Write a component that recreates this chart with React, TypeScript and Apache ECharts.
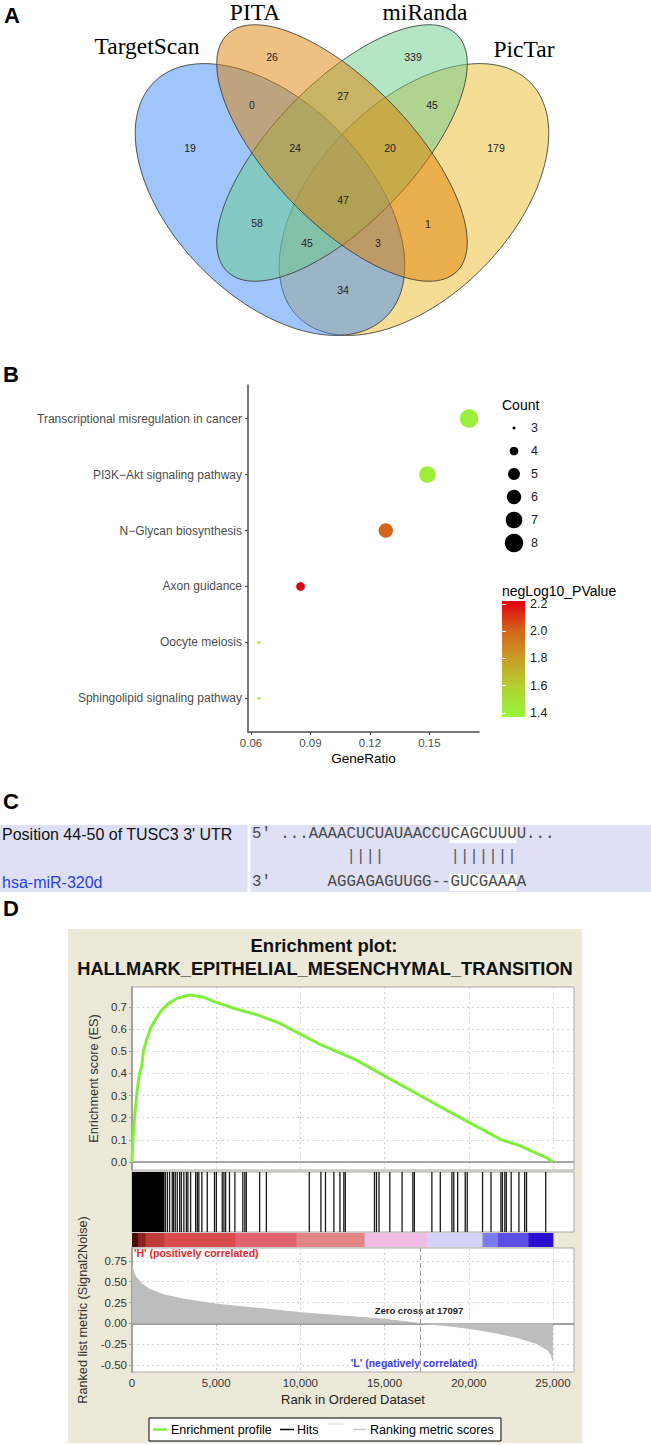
import React, { useEffect, useRef } from 'react';
import * as echarts from 'echarts';

// ================= DATA =================
// Panel A – Venn diagram of predicted targets
const vennSetNames = ['TargetScan', 'PITA', 'miRanda', 'PicTar'];
const vennRegions = [
  'TargetScan', 'PITA', 'miRanda', 'PicTar', 'TargetScan&PITA', 'PITA&miRanda', 'miRanda&PicTar',
  'TargetScan&PITA&miRanda', 'PITA&miRanda&PicTar', 'all', 'TargetScan&miRanda', 'TargetScan&miRanda&PicTar',
  'TargetScan&PITA&PicTar', 'PITA&PicTar', 'TargetScan&PicTar',
];
const vennCounts = [19, 26, 339, 179, 0, 27, 45, 24, 20, 47, 58, 45, 3, 1, 34];

// Panel B – KEGG dot plot
const pathways = [
  'Transcriptional misregulation in cancer',
  'PI3K\u2212Akt signaling pathway',
  'N\u2212Glycan biosynthesis',
  'Axon guidance',
  'Oocyte meiosis',
  'Sphingolipid signaling pathway',
];
const geneRatio = [0.170, 0.149, 0.128, 0.085, 0.064, 0.064];
const geneCount = [8, 7, 6, 4, 3, 3];
const negLog10PValue = [1.40, 1.42, 2.00, 2.22, 1.37, 1.37];
const geneRatioTicks = [0.06, 0.09, 0.12, 0.15];
const countLegendValues = [3, 4, 5, 6, 7, 8];
const pValueTicks = [1.4, 1.6, 1.8, 2.0, 2.2];

// Panel C – binding site
const utrLabel = "Position 44-50 of TUSC3 3' UTR";
const mirnaLabel = 'hsa-miR-320d';
const utrEndLabel = "5'";
const utrSequence = '...AAAACUCUAUAACCUCAGCUUUU...';
const mirEndLabel = "3'";
const mirSequence = 'AGGAGAGUUGG--GUCGAAAA';
const pairingBlocks = ['||||', '|||||||'];

// Panel D – GSEA enrichment plot
const gseaTitle = ['Enrichment plot:', 'HALLMARK_EPITHELIAL_MESENCHYMAL_TRANSITION'];
const rankTicks = [0, 5000, 10000, 15000, 20000, 25000];
const esTicks = [0, 0.1, 0.2, 0.3, 0.4, 0.5, 0.6, 0.7];
const metricTicks = [-0.5, -0.25, 0, 0.25, 0.5, 0.75];
const esRank = [0, 30, 80, 150, 300, 450, 570, 680, 900, 1140, 1450, 1710, 2160, 2700, 3410, 4200, 4890, 6030, 7400, 8760, 11030, 13310, 15580, 16490, 19000, 20820, 21950, 23000, 24000, 24600, 25000];
const esValue = [0, 0.06, 0.13, 0.2, 0.32, 0.40, 0.43, 0.50, 0.56, 0.61, 0.65, 0.68, 0.715, 0.74, 0.754, 0.745, 0.724, 0.694, 0.665, 0.627, 0.536, 0.461, 0.364, 0.326, 0.221, 0.146, 0.10, 0.075, 0.04, 0.02, 0.0];
const denseHitStart = [0];
const denseHitEnd = [1930];
const hitRanks = [
  1980, 2100, 2230, 2390, 2470, 2570, 2690, 2830, 2930, 3080, 3230, 3320, 3480, 3780, 3880, 3970, 4150, 4470,
  4900, 5010, 5360, 5460, 5560, 5790, 6110, 6580, 6700, 6790, 7580, 7980,
  10530, 11220, 11490, 11990, 12350, 12580, 12670, 14400, 14520, 14670, 15310, 16040, 16680, 16770, 17810,
  18310, 19000, 19110, 19340, 19790, 19910, 20820, 21320, 21910, 22000, 22140, 22230, 22520, 22980, 23320,
  23430, 24570,
];
const metricRank = [0, 80, 228, 570, 1020, 1930, 3070, 5000, 7500, 10000, 12500, 15000, 17097, 18770, 20000, 21500, 22860, 24000, 24690, 24900, 25000];
const metricValue = [0.70, 0.62, 0.56, 0.48, 0.41, 0.34, 0.29, 0.23, 0.18, 0.128, 0.088, 0.048, 0.0, -0.03, -0.06, -0.11, -0.17, -0.24, -0.32, -0.38, -0.45];
const zeroCrossRank = 17097;
const stripStart = [0, 350, 800, 1930, 6140, 9780, 13810, 17520, 20820, 21730, 23550];
const stripEnd = [350, 800, 1930, 6140, 9780, 13810, 17520, 20820, 21730, 23550, 25000];

// ================= STYLE / LAYOUT =================
const SANS = "'Liberation Sans', Arial, Helvetica, sans-serif";
const SERIF = "'Liberation Serif', 'Times New Roman', serif";
const MONO = "'Liberation Mono', 'Courier New', monospace";

const vennShapes = [
  { cx: 414, cy: 199.5, rx: 165, ry: 97, deg: 45.5, fill: 'rgba(237,187,43,0.5)' },
  { cx: 270, cy: 199.5, rx: 165, ry: 97, deg: -45.5, fill: 'rgba(63,140,247,0.5)' },
  { cx: 342, cy: 153, rx: 165, ry: 70, deg: 46, fill: 'rgba(105,203,139,0.5)' },
  { cx: 342, cy: 153, rx: 165, ry: 70, deg: -46, fill: 'rgba(221,129,3,0.5)' },
];
const vennTitlePos = [[147, 46], [255, 12], [425, 12], [524, 49]];
const vennLabelPos = [
  [190, 148], [272, 57], [413, 57], [496, 148], [252, 105], [343, 96], [432, 105], [295, 148],
  [390, 148], [343, 200], [257, 223], [307, 243], [378, 243], [428, 224], [343, 290],
];
const pValueColors = ['#96f53c', '#b3d230', '#c89e27', '#d4641c', '#e3000e'];
const stripColors = ['#4a0c0c', '#8a2020', '#c03a3a', '#d94b4e', '#e1636f', '#e38585', '#f0bde4', '#d4d3f9', '#7d7cf3', '#5e50e6', '#2a0fcc'];
const ES_GREEN = '#7ef03b';

const countToSize = (c: number) => (18.5 * Math.sqrt(1 + (c - 3) * 7)) / 6;

function txt(text: string, x: number, y: number, o: any = {}) {
  return {
    type: 'text',
    x,
    y,
    rotation: o.rotation || 0,
    z: o.z ?? 5,
    silent: true,
    style: {
      text,
      fill: o.fill ?? '#000',
      fontSize: o.size ?? 12,
      fontFamily: o.family ?? SANS,
      fontWeight: o.weight ?? 'normal',
      align: o.align ?? 'left',
      verticalAlign: o.va ?? 'middle',
      textAlign: o.align ?? 'left',
      textVerticalAlign: o.va ?? 'middle',
    },
  };
}

function buildGraphics() {
  const g: any[] = [];
  // Panel letters
  g.push(txt('A', 12, 15, { size: 22, weight: 'bold', align: 'center' }));
  g.push(txt('B', 11, 374, { size: 22, weight: 'bold', align: 'center' }));
  g.push(txt('C', 11, 801, { size: 22, weight: 'bold', align: 'center' }));
  g.push(txt('D', 11, 908, { size: 22, weight: 'bold', align: 'center' }));

  // Venn
  vennShapes.forEach((s) => {
    g.push({
      type: 'ellipse',
      x: s.cx,
      y: s.cy,
      rotation: (s.deg * Math.PI) / 180,
      shape: { cx: 0, cy: 0, rx: s.rx, ry: s.ry },
      style: { fill: s.fill, stroke: '#3a3a3a', lineWidth: 0.8 },
      silent: true,
    });
  });
  vennSetNames.forEach((n, i) => {
    g.push(txt(n, vennTitlePos[i][0], vennTitlePos[i][1], { size: 23.5, family: SERIF, align: 'center' }));
  });
  vennCounts.forEach((c, i) => {
    g.push(txt(String(c), vennLabelPos[i][0], vennLabelPos[i][1], { size: 10.5, fill: '#222', align: 'center' }));
  });

  // Panel B legends titles + colour bar
  g.push(txt('Count', 502, 405, { size: 14 }));
  g.push(txt('negLog10_PValue', 502, 591, { size: 14 }));
  g.push({
    type: 'rect',
    shape: { x: 502, y: 601, width: 23, height: 116 },
    z: 1,
    silent: true,
    style: {
      fill: {
        type: 'linear', x: 0, y: 1, x2: 0, y2: 0,
        colorStops: pValueColors.map((c, i) => ({ offset: i / (pValueColors.length - 1), color: c })),
      },
    },
  });

  // Panel C
  const cw = 9.45;
  const x0 = 252;
  g.push({ type: 'rect', z: -10, silent: true, shape: { x: 0, y: 825, width: 247.5, height: 67 }, style: { fill: '#dfe0f5' } });
  g.push({ type: 'rect', z: -10, silent: true, shape: { x: 250.5, y: 825, width: 400.5, height: 67 }, style: { fill: '#dfe0f5' } });
  g.push({ type: 'rect', z: -5, silent: true, shape: { x: x0 + 21 * cw - 1, y: 826, width: 7 * cw + 1, height: 17 }, style: { fill: '#ffffff' } });
  g.push({ type: 'rect', z: -5, silent: true, shape: { x: x0 + 21 * cw - 1, y: 874, width: 7 * cw + 1, height: 17 }, style: { fill: '#ffffff' } });
  g.push(txt(utrLabel, 2, 834, { size: 16, fill: '#111' }));
  g.push(txt(mirnaLabel, 2, 882, { size: 16, fill: '#2440e6' }));
  g.push(txt(utrEndLabel, x0, 834, { size: 15.75, family: MONO, fill: '#4a4a4a' }));
  g.push(txt(utrSequence, x0 + 3 * cw, 834, { size: 15.75, family: MONO, fill: '#4a4a4a' }));
  g.push(txt(pairingBlocks[0], x0 + 10 * cw, 857, { size: 15.75, family: MONO, fill: '#555' }));
  g.push(txt(pairingBlocks[1], x0 + 21 * cw, 857, { size: 15.75, family: MONO, fill: '#555' }));
  g.push(txt(mirEndLabel, x0, 882, { size: 15.75, family: MONO, fill: '#4a4a4a' }));
  g.push(txt(mirSequence, x0 + 8 * cw, 882, { size: 15.75, family: MONO, fill: '#4a4a4a' }));

  // Panel D background + titles
  g.push({ type: 'rect', z: -10, silent: true, shape: { x: 68, y: 929, width: 514, height: 514 }, style: { fill: '#ece9d8' } });
  g.push(txt(gseaTitle[0], 324, 945, { size: 18.5, weight: 'bold', align: 'center', fill: '#111' }));
  g.push(txt(gseaTitle[1], 325, 968, { size: 18.3, weight: 'bold', align: 'center', fill: '#111' }));
  g.push(txt("'H' (positively correlated)", 134, 1253, { size: 10.5, weight: 'bold', fill: '#e8262a' }));
  g.push(txt('Zero cross at ' + zeroCrossRank, 419, 1310, { size: 9.5, weight: 'bold', fill: '#222', align: 'center' }));
  g.push(txt("'L' (negatively correlated)", 414, 1363, { size: 10.5, weight: 'bold', fill: '#3b3bf5', align: 'center' }));

  // GSEA legend
  g.push({ type: 'rect', z: 5, silent: true, shape: { x: 149, y: 1418, width: 352, height: 23 }, style: { fill: '#fff', stroke: '#000', lineWidth: 1 } });
  g.push({ type: 'line', z: 6, silent: true, shape: { x1: 153, y1: 1429.5, x2: 167, y2: 1429.5 }, style: { stroke: ES_GREEN, lineWidth: 2.5 } });
  g.push(txt('Enrichment profile', 171, 1429.5, { size: 12.5, z: 6 }));
  g.push({ type: 'line', z: 6, silent: true, shape: { x1: 280, y1: 1429.5, x2: 294, y2: 1429.5 }, style: { stroke: '#000', lineWidth: 1.5 } });
  g.push(txt('Hits', 297, 1429.5, { size: 12.5, z: 6 }));
  g.push({ type: 'line', z: 6, silent: true, shape: { x1: 328, y1: 1424, x2: 343, y2: 1424 }, style: { stroke: '#d8d8d8', lineWidth: 1 } });
  g.push({ type: 'line', z: 6, silent: true, shape: { x1: 353, y1: 1429.5, x2: 366, y2: 1429.5 }, style: { stroke: '#c8c8c8', lineWidth: 1.5 } });
  g.push(txt('Ranking metric scores', 370, 1429.5, { size: 12.5, z: 6 }));
  return g;
}

function buildOption(): any {
  const dashed = { show: true, lineStyle: { color: '#d4d4d4', type: [2, 3], width: 1 } };
  const rankAxisBase = { type: 'value', min: 0, max: 26250 };
  return {
    animation: false,
    textStyle: { fontFamily: SANS },
    grid: [
      { left: 248, top: 385, width: 231, height: 347, show: false },
      { left: 502, top: 416.5, width: 24, height: 138, show: false },
      { left: 502, top: 601, width: 23, height: 116, show: false },
      { left: 132, top: 987, width: 442, height: 183, show: true, backgroundColor: '#fff', borderColor: '#a8a8a8', borderWidth: 1 },
      { left: 132, top: 1172, width: 442, height: 60, show: true, backgroundColor: '#fff', borderColor: '#a8a8a8', borderWidth: 1 },
      { left: 132, top: 1233, width: 442, height: 14, show: false },
      { left: 132, top: 1248, width: 442, height: 124, show: true, backgroundColor: '#fff', borderColor: '#a8a8a8', borderWidth: 1 },
    ],
    xAxis: [
      {
        gridIndex: 0, type: 'value', min: 0.0585, max: 0.175,
        axisLine: { show: true, lineStyle: { color: '#4d4d4d', width: 1.5 } },
        axisTick: { show: true, length: 3, customValues: geneRatioTicks, lineStyle: { color: '#4d4d4d', width: 1.2 } },
        axisLabel: { customValues: geneRatioTicks, formatter: (v: number) => v.toFixed(2), color: '#4d4d4d', fontSize: 11.5, margin: 5 },
        splitLine: { show: false },
        name: 'GeneRatio', nameLocation: 'middle', nameGap: 19, nameTextStyle: { fontSize: 13.5, color: '#000' },
      },
      { gridIndex: 1, type: 'value', min: -1, max: 1, show: false },
      { gridIndex: 2, type: 'value', min: 0, max: 1, show: false },
      {
        gridIndex: 3, ...rankAxisBase,
        axisLine: { show: false }, axisTick: { show: false, customValues: rankTicks },
        axisLabel: { show: false, customValues: rankTicks }, splitLine: dashed,
      },
      { gridIndex: 4, ...rankAxisBase, show: false },
      { gridIndex: 5, ...rankAxisBase, show: false },
      {
        gridIndex: 6, ...rankAxisBase,
        axisLine: { show: true, lineStyle: { color: '#a0a0a0', width: 2 } },
        axisTick: { show: true, length: 3, customValues: rankTicks, lineStyle: { color: '#a0a0a0' } },
        axisLabel: { customValues: rankTicks, formatter: (v: number) => v.toLocaleString('en-US'), color: '#333', fontSize: 11.5, margin: 5 },
        splitLine: dashed,
        name: 'Rank in Ordered Dataset', nameLocation: 'middle', nameGap: 21, nameTextStyle: { fontSize: 13, color: '#222' },
      },
    ],
    yAxis: [
      {
        gridIndex: 0, type: 'value', min: 0.4, max: 6.6, inverse: true,
        axisLine: { show: true, lineStyle: { color: '#4d4d4d', width: 1.5 } },
        axisTick: { show: true, length: 3, customValues: [1, 2, 3, 4, 5, 6], lineStyle: { color: '#4d4d4d', width: 1.2 } },
        axisLabel: { customValues: [1, 2, 3, 4, 5, 6], formatter: (v: number) => pathways[Math.round(v) - 1], color: '#4d4d4d', fontSize: 12, margin: 6 },
        splitLine: { show: false },
      },
      {
        gridIndex: 1, type: 'category', data: countLegendValues.map(String), inverse: true, position: 'right',
        axisLine: { show: false }, axisTick: { show: false },
        axisLabel: { color: '#1a1a1a', fontSize: 12.5, margin: 5 },
      },
      {
        gridIndex: 2, type: 'value', min: 1.37, max: 2.222, position: 'right', z: 10,
        axisLine: { show: false }, splitLine: { show: false },
        axisTick: { show: true, inside: true, length: 4, customValues: pValueTicks, lineStyle: { color: '#fff', width: 1 } },
        axisLabel: { customValues: pValueTicks, formatter: (v: number) => v.toFixed(1), color: '#1a1a1a', fontSize: 12.5, margin: 5 },
      },
      {
        gridIndex: 2, type: 'value', min: 1.37, max: 2.222, position: 'left', z: 10,
        axisLine: { show: false }, splitLine: { show: false }, axisLabel: { show: false },
        axisTick: { show: true, inside: true, length: 4, customValues: pValueTicks, lineStyle: { color: '#fff', width: 1 } },
      },
      {
        gridIndex: 3, type: 'value', min: -0.036, max: 0.79,
        axisLine: { show: true, lineStyle: { color: '#a0a0a0', width: 2 } },
        axisTick: { show: true, length: 3, customValues: esTicks, lineStyle: { color: '#a0a0a0' } },
        axisLabel: { customValues: esTicks, formatter: (v: number) => v.toFixed(1), color: '#333', fontSize: 11.5, margin: 5 },
        splitLine: dashed,
        name: 'Enrichment score (ES)', nameLocation: 'middle', nameGap: 30, nameRotate: 90,
        nameTextStyle: { fontSize: 12.8, color: '#333' },
      },
      { gridIndex: 4, type: 'value', min: 0, max: 1, show: false },
      { gridIndex: 5, type: 'value', min: 0, max: 1, show: false },
      {
        gridIndex: 6, type: 'value', min: -0.585, max: 0.905,
        axisLine: { show: true, lineStyle: { color: '#a0a0a0', width: 2 } },
        axisTick: { show: true, length: 3, customValues: metricTicks, lineStyle: { color: '#a0a0a0' } },
        axisLabel: { customValues: metricTicks, formatter: (v: number) => v.toFixed(2), color: '#333', fontSize: 11.5, margin: 5 },
        splitLine: dashed,
        name: 'Ranked list metric (Signal2Noise)', nameLocation: 'middle', nameGap: 37, nameRotate: 90,
        nameTextStyle: { fontSize: 12.7, color: '#333' },
      },
    ],
    visualMap: {
      type: 'continuous', show: false, seriesIndex: 0, dimension: 2, min: 1.37, max: 2.222,
      inRange: { color: pValueColors },
    },
    series: [
      {
        type: 'scatter', xAxisIndex: 0, yAxisIndex: 0, silent: true,
        data: pathways.map((_, i) => [geneRatio[i], i + 1, negLog10PValue[i], geneCount[i]]),
        symbolSize: (v: number[]) => countToSize(v[3]),
        itemStyle: { opacity: 1 },
      },
      {
        type: 'scatter', xAxisIndex: 1, yAxisIndex: 1, silent: true,
        data: countLegendValues.map((c, i) => [0, i, c]),
        symbolSize: (v: number[]) => countToSize(v[2]),
        itemStyle: { color: '#000', opacity: 1 },
      },
      {
        type: 'line', xAxisIndex: 3, yAxisIndex: 4, silent: true, showSymbol: false, z: 5,
        data: esRank.map((r, i) => [r, esValue[i]]),
        lineStyle: { color: ES_GREEN, width: 3 },
        markLine: {
          silent: true, symbol: 'none', label: { show: false },
          lineStyle: { color: '#8c8c8c', width: 1.5, type: 'solid' },
          data: [{ yAxis: 0 }],
        },
      },
      {
        type: 'custom', coordinateSystem: 'cartesian2d', xAxisIndex: 4, yAxisIndex: 5, silent: true,
        data: hitRanks.map((r) => [r, 0]),
        renderItem: (_p: any, api: any) => {
          const x = api.value(0);
          const a = api.coord([x, 1]);
          const b = api.coord([x, 0]);
          return { type: 'line', shape: { x1: a[0], y1: a[1], x2: b[0], y2: b[1] }, style: { stroke: '#1a1a1a', lineWidth: 1.3 } };
        },
      },
      {
        type: 'custom', coordinateSystem: 'cartesian2d', xAxisIndex: 4, yAxisIndex: 5, silent: true,
        data: denseHitStart.map((s, i) => [s, denseHitEnd[i]]),
        renderItem: (_p: any, api: any) => {
          const a = api.coord([api.value(0), 1]);
          const b = api.coord([api.value(1), 0]);
          return { type: 'rect', shape: { x: a[0], y: a[1], width: b[0] - a[0], height: b[1] - a[1] }, style: { fill: '#000' } };
        },
      },
      {
        type: 'custom', coordinateSystem: 'cartesian2d', xAxisIndex: 5, yAxisIndex: 6, silent: true,
        data: stripStart.map((s, i) => [s, stripEnd[i], i]),
        renderItem: (_p: any, api: any) => {
          const a = api.coord([api.value(0), 1]);
          const b = api.coord([api.value(1), 0]);
          return {
            type: 'rect',
            shape: { x: a[0], y: a[1], width: b[0] - a[0] + 0.5, height: b[1] - a[1] },
            style: { fill: stripColors[api.value(2)] },
          };
        },
      },
      {
        type: 'line', xAxisIndex: 6, yAxisIndex: 7, silent: true, showSymbol: false,
        data: metricRank.map((r, i) => [r, metricValue[i]]),
        lineStyle: { color: '#bdbdbd', width: 1 },
        areaStyle: { color: '#bdbdbd', opacity: 1 },
        markLine: {
          silent: true, symbol: 'none', label: { show: false },
          lineStyle: { color: '#9a9a9a', width: 1, type: [5, 3] },
          data: [{ xAxis: zeroCrossRank }],
        },
      },
    ],
    graphic: { elements: buildGraphics() },
  };
}

export default function App() {
  const ref = useRef<HTMLDivElement>(null);
  useEffect(() => {
    if (!ref.current) return;
    const chart = echarts.init(ref.current, undefined, { renderer: 'svg', width: 651, height: 1445 });
    chart.setOption(buildOption());
    return () => chart.dispose();
  }, []);
  return (
    <div
      ref={ref}
      style={{ position: 'absolute', left: 0, top: 0, width: 651, height: 1445, background: '#fff' }}
    />
  );
}
